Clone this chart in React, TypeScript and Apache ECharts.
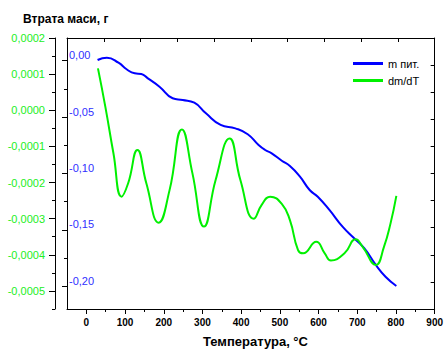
import React, { useEffect, useRef } from "react";
import * as echarts from "echarts";

const massTemps = [29, 53, 83, 104, 125, 142, 159, 189, 223, 249, 279, 309, 347, 385, 417, 445, 462, 479, 505, 526, 552, 577, 598, 628, 662, 692, 718, 748, 773, 801];
const massLoss = [0.0005, 0.0026, -0.0019, -0.0077, -0.0113, -0.0119, -0.0157, -0.0231, -0.0334, -0.0349, -0.0373, -0.0467, -0.057, -0.06, -0.0652, -0.0748, -0.0792, -0.0821, -0.0887, -0.0934, -0.1028, -0.1146, -0.1206, -0.1323, -0.1471, -0.1574, -0.1662, -0.181, -0.1914, -0.1996];

const dmTemps = [30, 49, 70, 91, 108, 132, 155, 187, 215, 247, 274, 304, 334, 370, 398, 433, 453, 475, 505, 526, 547, 560, 594, 616, 632, 667, 696, 714, 748, 769, 786, 801];
const dmdT = [0.000116, 0.00001, -0.000119, -0.000239, -0.000202, -0.00011, -0.000202, -0.000311, -0.000221, -0.000053, -0.000174, -0.000322, -0.000193, -0.000078, -0.000193, -0.0003, -0.000262, -0.000239, -0.000259, -0.000304, -0.000387, -0.000396, -0.000364, -0.000396, -0.000416, -0.000396, -0.000357, -0.000378, -0.000428, -0.000378, -0.000313, -0.000237];

const xMajor = [0, 100, 200, 300, 400, 500, 600, 700, 800, 900];
const xMinor = [50, 150, 250, 350, 450, 550, 650, 750, 850];
const massMajor = [0, -0.05, -0.1, -0.15, -0.2];
const massMinor = [-0.025, -0.075, -0.125, -0.175];
const dmMajor = [0.0002, 0.0001, 0, -0.0001, -0.0002, -0.0003, -0.0004, -0.0005];
const dmMinor = [0.00015, 0.00005, -0.00005, -0.00015, -0.00025, -0.00035, -0.00045, -0.00055];

const BLUE = "#0000ff";
const GREEN = "#00f000";
const FONT = "'Liberation Sans', Arial, sans-serif";

export default function App() {
  const ref = useRef<HTMLDivElement>(null);
  useEffect(() => {
    if (!ref.current) return;
    const chart = echarts.init(ref.current, undefined, { renderer: "svg" });
    const axisLine = { show: true, onZero: false, lineStyle: { color: "#000", width: 1 } };
    const noLine = { show: false, onZero: false };
    chart.setOption({
      animation: false,
      textStyle: { fontFamily: FONT },
      grid: { left: 67, right: 8, top: 38, bottom: 45 },
      title: {
        text: "Втрата маси, г",
        left: 18,
        top: 8,
        textStyle: { fontFamily: FONT, fontSize: 12, fontWeight: "bold", color: "#000" },
      },
      legend: {
        orient: "vertical",
        left: 348,
        top: 53,
        itemWidth: 30,
        itemHeight: 3,
        itemGap: 6,
        icon: "rect",
        textStyle: { fontFamily: FONT, fontSize: 11, color: "#000" },
        data: ["m пит.", "dm/dT"],
      },
      graphic: [
        {
          type: "text",
          left: 203,
          top: 335,
          style: { text: "Температура, °C", font: `bold 13px ${FONT}`, fill: "#000" },
        },
      ],
      xAxis: [
        {
          type: "value",
          min: -50,
          max: 900,
          position: "bottom",
          axisLine,
          splitLine: { show: false },
          axisTick: { show: true, length: 5, customValues: xMajor, lineStyle: { color: "#000" } },
          axisLabel: {
            customValues: xMajor,
            margin: 8,
            fontSize: 10,
            fontWeight: "bold",
            color: "#000",
            fontFamily: FONT,
          },
        },
        {
          type: "value",
          min: -50,
          max: 900,
          position: "bottom",
          axisLine: noLine,
          splitLine: { show: false },
          axisTick: { show: true, length: 3, customValues: xMinor, lineStyle: { color: "#000" } },
          axisLabel: { show: false },
        },
        {
          type: "value",
          min: 0,
          max: 10,
          interval: 1,
          position: "top",
          axisLine,
          splitLine: { show: false },
          axisTick: { show: true, inside: true, length: 4, lineStyle: { color: "#000" } },
          axisLabel: { show: false },
        },
      ],
      yAxis: [
        {
          type: "value",
          min: -0.22,
          max: 0.02,
          position: "left",
          axisLine,
          splitLine: { show: false },
          axisTick: { show: true, length: 5, customValues: massMajor, lineStyle: { color: "#000" } },
          axisLabel: {
            customValues: massMajor,
            inside: true,
            margin: 2,
            verticalAlign: "bottom",
            fontSize: 11,
            color: "#3030ff",
            fontFamily: FONT,
            formatter: (v: number) => v.toFixed(2).replace(".", ","),
          },
        },
        {
          type: "value",
          min: -0.22,
          max: 0.02,
          position: "left",
          axisLine: noLine,
          splitLine: { show: false },
          axisTick: { show: true, length: 3, customValues: massMinor, lineStyle: { color: "#000" } },
          axisLabel: { show: false },
        },
        {
          type: "value",
          min: -0.00055,
          max: 0.0002,
          position: "left",
          offset: 12,
          axisLine,
          splitLine: { show: false },
          axisTick: { show: true, length: 6, customValues: dmMajor, lineStyle: { color: "#000" } },
          axisLabel: {
            customValues: dmMajor,
            margin: 10,
            fontSize: 11,
            color: "#22ee22",
            fontFamily: FONT,
            formatter: (v: number) => (Math.abs(v) < 1e-12 ? "0,0000" : v.toFixed(4).replace(".", ",")),
          },
        },
        {
          type: "value",
          min: -0.00055,
          max: 0.0002,
          position: "left",
          offset: 12,
          axisLine: noLine,
          splitLine: { show: false },
          axisTick: { show: true, length: 3, customValues: dmMinor, lineStyle: { color: "#000" } },
          axisLabel: { show: false },
        },
        {
          type: "value",
          min: 0,
          max: 10,
          interval: 1,
          position: "right",
          axisLine,
          splitLine: { show: false },
          axisTick: { show: true, inside: true, length: 4, lineStyle: { color: "#000" } },
          axisLabel: { show: false },
        },
      ],
      series: [
        {
          name: "m пит.",
          type: "line",
          xAxisIndex: 0,
          yAxisIndex: 0,
          smooth: true,
          showSymbol: false,
          lineStyle: { color: BLUE, width: 2 },
          itemStyle: { color: BLUE },
          data: massTemps.map((t, i) => [t, massLoss[i]]),
        },
        {
          name: "dm/dT",
          type: "line",
          xAxisIndex: 0,
          yAxisIndex: 2,
          smooth: true,
          showSymbol: false,
          lineStyle: { color: GREEN, width: 2 },
          itemStyle: { color: GREEN },
          data: dmTemps.map((t, i) => [t, dmdT[i]]),
        },
      ],
    });
    return () => chart.dispose();
  }, []);
  return <div ref={ref} style={{ width: 446, height: 354, position: "absolute", left: 0, top: 0 }} />;
}
